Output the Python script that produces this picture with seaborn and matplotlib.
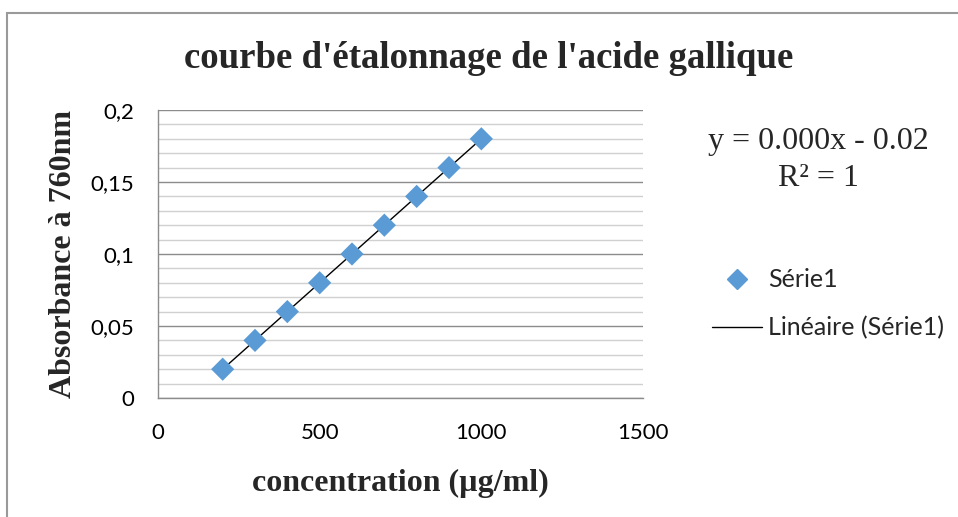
import matplotlib
matplotlib.use("Agg")
import matplotlib.pyplot as plt
import seaborn as sns
import numpy as np
import pandas as pd
from matplotlib.lines import Line2D
from matplotlib.patches import Rectangle

concentration = [200, 300, 400, 500, 600, 700, 800, 900, 1000]
absorbance = [0.02, 0.04, 0.06, 0.08, 0.10, 0.12, 0.14, 0.16, 0.18]
x_ticks = [0, 500, 1000, 1500]
x_tick_labels = ["0", "500", "1000", "1500"]
y_ticks = [0, 0.05, 0.1, 0.15, 0.2]
y_tick_labels = ["0", "0,05", "0,1", "0,15", "0,2"]
series_name = "Série1"
trend_name = "Linéaire (Série1)"
equation_text = "y = 0.000x - 0.02"
r2_text = "R² = 1"

df = pd.DataFrame({"x": concentration, "y": absorbance})

sns.set_theme(style="white")
plt.rcParams["font.family"] = ["Lato", "DejaVu Sans"]

fig = plt.figure(figsize=(9.58, 5.17), dpi=100)
ax = fig.add_axes([158/958, 1-398/517, (643-158)/958, (398-110)/517])

# outer chart frame
fig.patches.append(Rectangle((7/958, -0.1), 1.2, 1-13/517+0.1, transform=fig.transFigure,
                             fill=False, edgecolor="#9a9a9a", linewidth=1.5, zorder=0))

# minor gridlines
ax.set_yticks(np.arange(0, 0.2001, 0.01), minor=True)
ax.grid(which="minor", axis="y", color="#d0d0d0", linewidth=1.0)
ax.grid(which="major", axis="y", color="#8c8c8c", linewidth=1.0)
ax.grid(which="both", axis="x", visible=False)
ax.set_axisbelow(True)

sns.regplot(data=df, x="x", y="y", ax=ax, scatter=False, ci=None, truncate=True,
            line_kws={"color": "black", "linewidth": 1.0, "zorder": 2})
sns.scatterplot(data=df, x="x", y="y", ax=ax, marker="D", s=140, color="#5B9BD5",
                edgecolor="none", zorder=3)

ax.set_xlim(0, 1500)
ax.set_ylim(0, 0.2)
ax.set_xticks(x_ticks)
ax.set_xticklabels(x_tick_labels)
ax.set_yticks(y_ticks)
ax.set_yticklabels(y_tick_labels)
ax.tick_params(axis="both", which="major", direction="out", length=6, width=1,
               color="#8c8c8c", labelsize=16, labelcolor="black")
ax.tick_params(axis="y", which="major", pad=11)
ax.tick_params(axis="x", which="major", pad=12)
ax.tick_params(axis="y", which="minor", length=0)
for s in ["top", "right"]:
    ax.spines[s].set_visible(False)
for s in ["left", "bottom"]:
    ax.spines[s].set_color("#8c8c8c")
    ax.spines[s].set_linewidth(1.0)

ax.set_xlabel("concentration (µg/ml)", fontfamily="Liberation Serif", fontweight="bold",
              fontsize=23, labelpad=19)
ax.set_ylabel("Absorbance à 760nm", fontfamily="Liberation Serif", fontweight="bold",
              fontsize=23, labelpad=9)

fig.text(489/958, 1-58/517, "courbe d'étalonnage de l'acide gallique",
         fontfamily="Liberation Serif", fontweight="bold", fontsize=26.5,
         ha="center", va="center")

fig.text(818/958, 1-141/517, equation_text, fontfamily="Liberation Serif", fontsize=23,
         ha="center", va="center")
fig.text(818/958, 1-178/517, r2_text, fontfamily="Liberation Serif", fontsize=23,
         ha="center", va="center")

handles = [Line2D([], [], marker="D", color="#5B9BD5", linestyle="none", markersize=10),
           Line2D([], [], color="black", linewidth=1.0)]
fig.legend(handles, [series_name, trend_name], loc="center left",
           bbox_to_anchor=(702/958, 1-304/517), frameon=False, fontsize=18,
           handlelength=2.0, labelspacing=1.0, handletextpad=0.25, borderaxespad=0)

fig.savefig("out.png", dpi=100)
